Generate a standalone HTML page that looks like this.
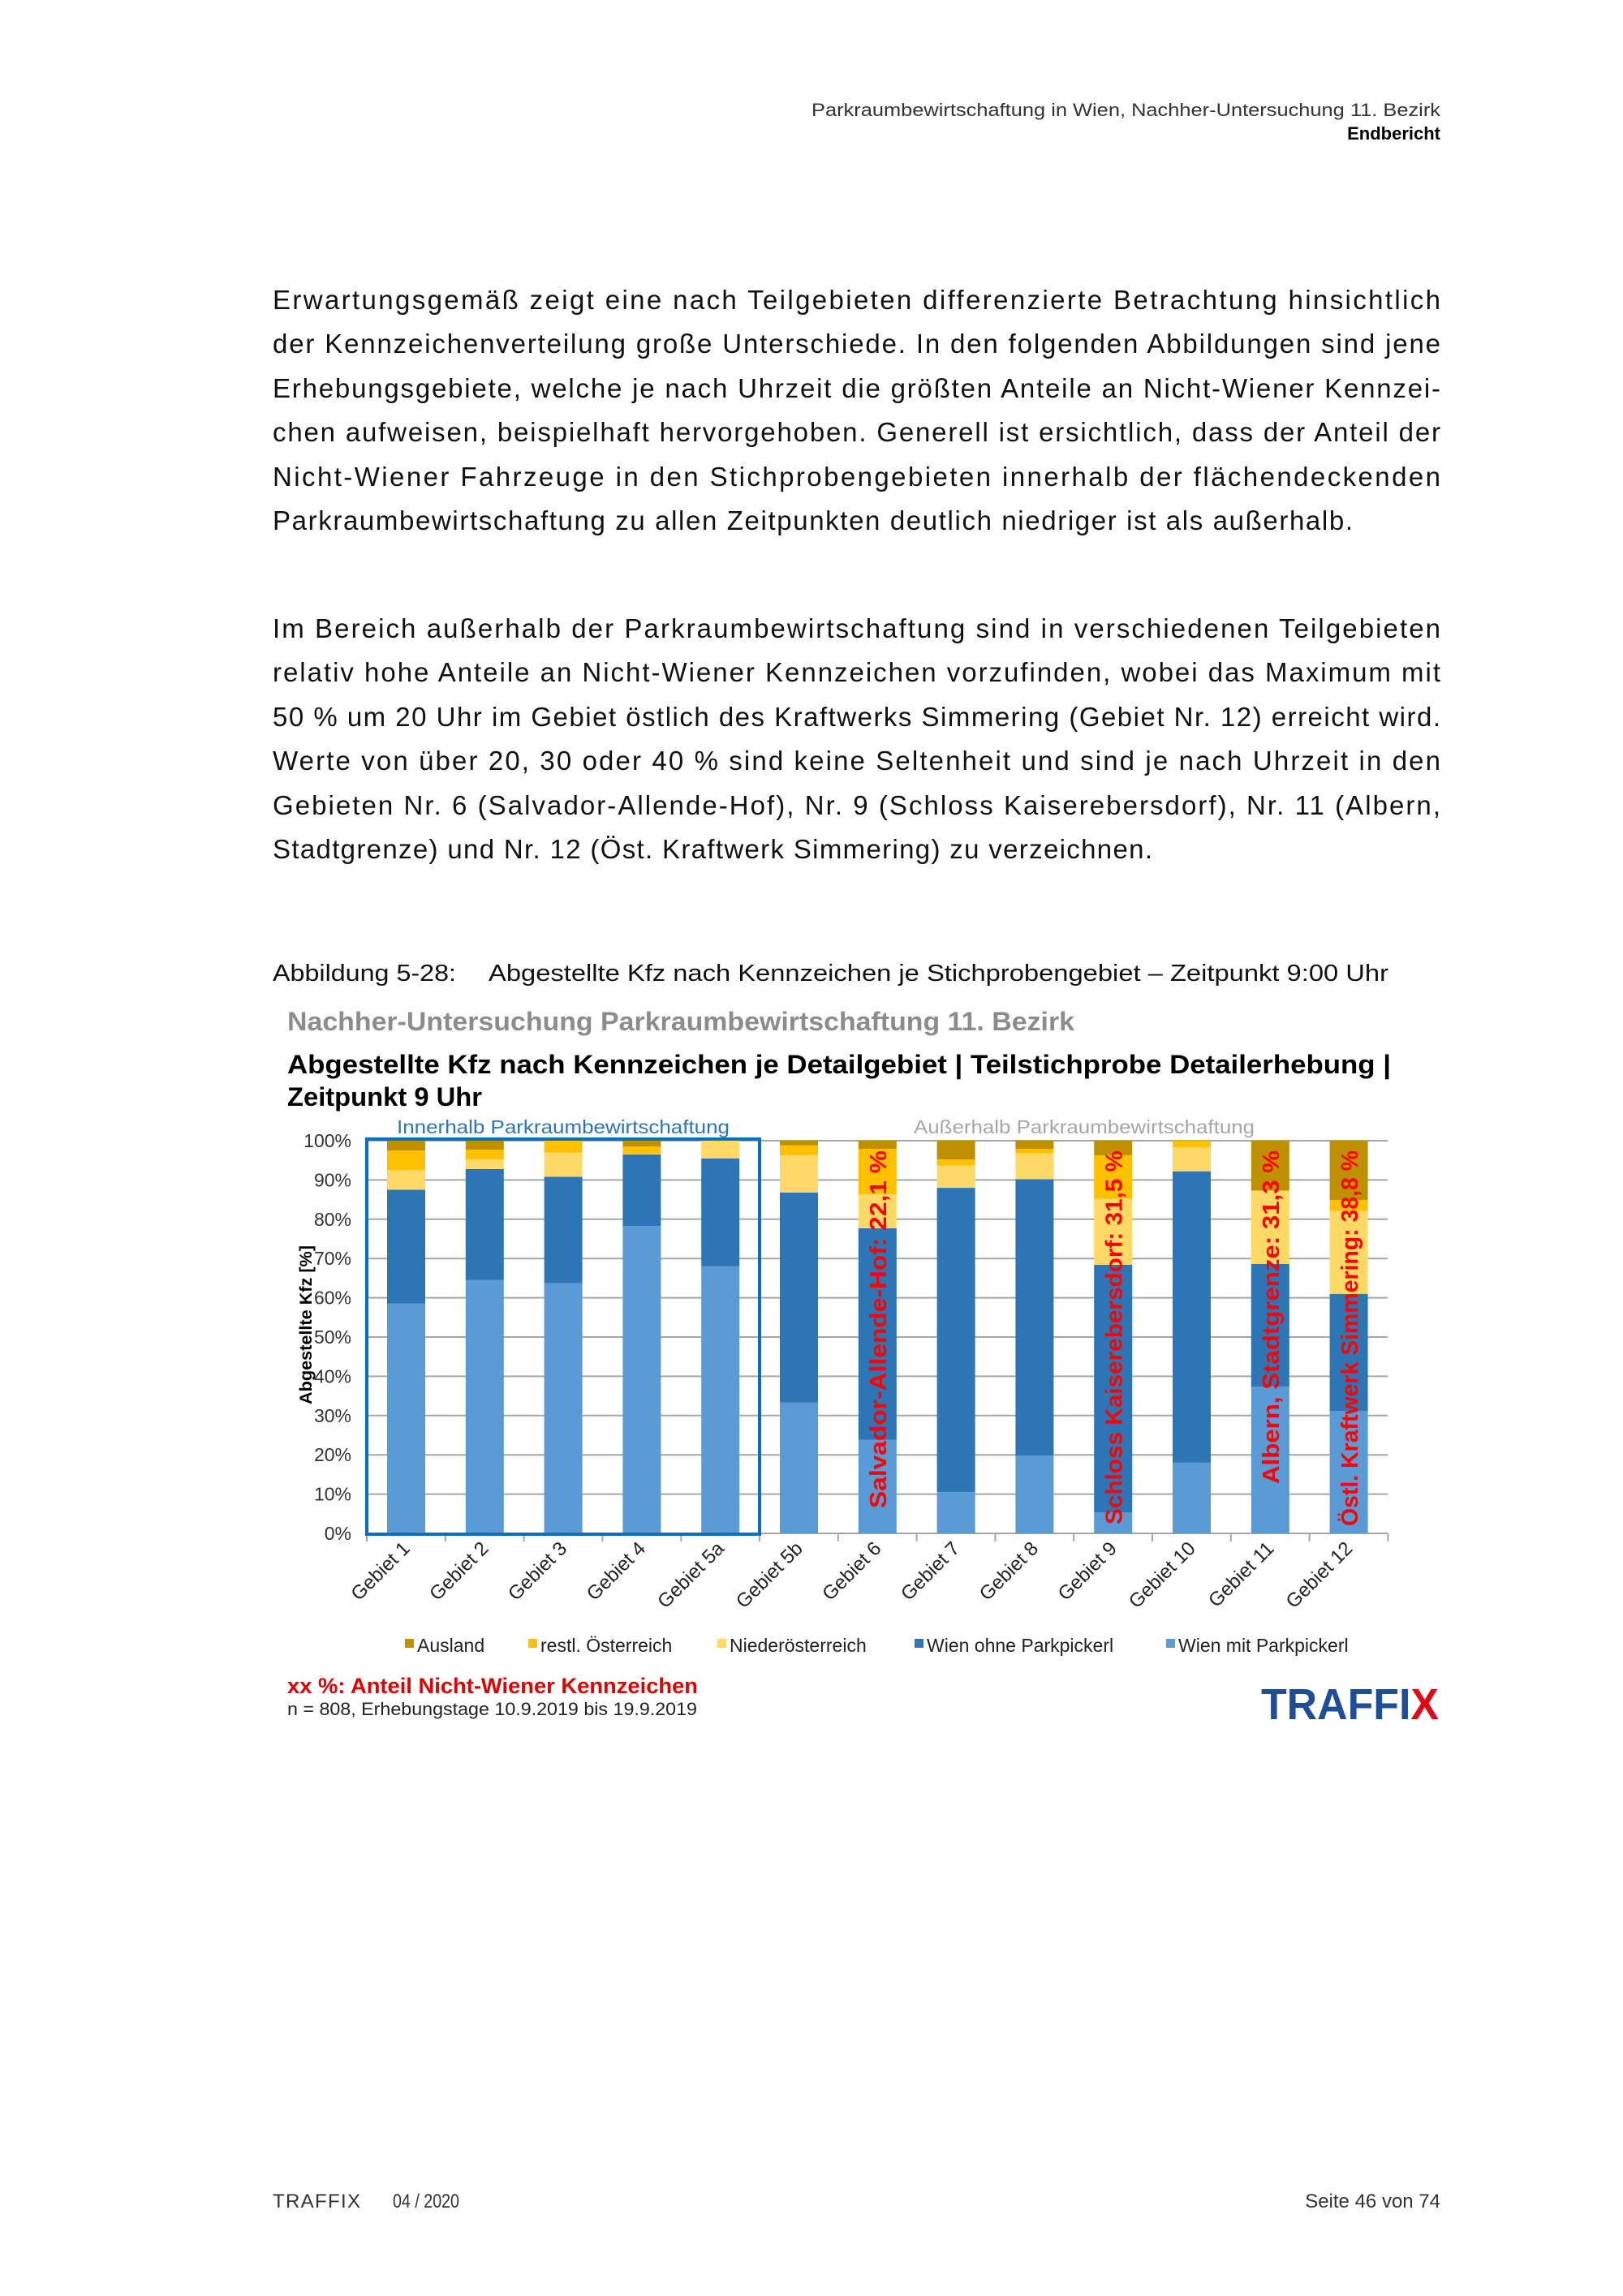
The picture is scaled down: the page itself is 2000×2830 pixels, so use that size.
<!DOCTYPE html>
<html><head><meta charset="utf-8"><style>
html,body{margin:0;padding:0;background:#fff;}
svg{display:block;font-family:"Liberation Sans",sans-serif;}
</style></head><body>
<svg id="s" width="2000" height="2830" viewBox="0 0 2000 2830" xmlns="http://www.w3.org/2000/svg">
<rect width="2000" height="2830" fill="#fff"/>
<text x="1775" y="143" font-size="22" text-anchor="end" fill="#333" textLength="775" lengthAdjust="spacingAndGlyphs">Parkraumbewirtschaftung in Wien, Nachher-Untersuchung 11. Bezirk</text>
<text x="1775" y="172" font-size="22" font-weight="bold" text-anchor="end" fill="#000">Endbericht</text>
<g font-size="33" fill="#111">
<text x="336" y="381" textLength="1439" lengthAdjust="spacing">Erwartungsgemäß zeigt eine nach Teilgebieten differenzierte Betrachtung hinsichtlich</text>
<text x="336" y="435" textLength="1439" lengthAdjust="spacing">der Kennzeichenverteilung große Unterschiede. In den folgenden Abbildungen sind jene</text>
<text x="336" y="490" textLength="1439" lengthAdjust="spacing">Erhebungsgebiete, welche je nach Uhrzeit die größten Anteile an Nicht-Wiener Kennzei-</text>
<text x="336" y="544" textLength="1439" lengthAdjust="spacing">chen aufweisen, beispielhaft hervorgehoben. Generell ist ersichtlich, dass der Anteil der</text>
<text x="336" y="599" textLength="1439" lengthAdjust="spacing">Nicht-Wiener Fahrzeuge in den Stichprobengebieten innerhalb der flächendeckenden</text>
<text x="336" y="653" textLength="1331" lengthAdjust="spacing">Parkraumbewirtschaftung zu allen Zeitpunkten deutlich niedriger ist als außerhalb.</text>
<text x="336" y="786" textLength="1439" lengthAdjust="spacing">Im Bereich außerhalb der Parkraumbewirtschaftung sind in verschiedenen Teilgebieten</text>
<text x="336" y="840" textLength="1439" lengthAdjust="spacing">relativ hohe Anteile an Nicht-Wiener Kennzeichen vorzufinden, wobei das Maximum mit</text>
<text x="336" y="895" textLength="1439" lengthAdjust="spacing">50 % um 20 Uhr im Gebiet östlich des Kraftwerks Simmering (Gebiet Nr. 12) erreicht wird.</text>
<text x="336" y="949" textLength="1439" lengthAdjust="spacing">Werte von über 20, 30 oder 40 % sind keine Seltenheit und sind je nach Uhrzeit in den</text>
<text x="336" y="1004" textLength="1439" lengthAdjust="spacing">Gebieten Nr. 6 (Salvador-Allende-Hof), Nr. 9 (Schloss Kaiserebersdorf), Nr. 11 (Albern,</text>
<text x="336" y="1058" textLength="1084" lengthAdjust="spacing">Stadtgrenze) und Nr. 12 (Öst. Kraftwerk Simmering) zu verzeichnen.</text>
</g>
<text x="336" y="1209" font-size="29" fill="#111" textLength="226" lengthAdjust="spacingAndGlyphs">Abbildung 5-28:</text>
<text x="602" y="1209" font-size="29" fill="#111" textLength="1109" lengthAdjust="spacingAndGlyphs">Abgestellte Kfz nach Kennzeichen je Stichprobengebiet – Zeitpunkt 9:00 Uhr</text>
<text x="354" y="1270" font-size="32" font-weight="bold" fill="#8c8c8c" textLength="970" lengthAdjust="spacingAndGlyphs">Nachher-Untersuchung Parkraumbewirtschaftung 11. Bezirk</text>
<text x="354" y="1323" font-size="32" font-weight="bold" fill="#000" textLength="1360" lengthAdjust="spacingAndGlyphs">Abgestellte Kfz nach Kennzeichen je Detailgebiet  |  Teilstichprobe Detailerhebung  |</text>
<text x="354" y="1363" font-size="32" font-weight="bold" fill="#000" textLength="240" lengthAdjust="spacingAndGlyphs">Zeitpunkt 9 Uhr</text>
<text x="694" y="1397" font-size="23" fill="#2e75b6" text-anchor="middle" textLength="410" lengthAdjust="spacingAndGlyphs">Innerhalb Parkraumbewirtschaftung</text>
<text x="1336" y="1397" font-size="23" fill="#a6a6a6" text-anchor="middle" textLength="420" lengthAdjust="spacingAndGlyphs">Außerhalb Parkraumbewirtschaftung</text>
<g id="grid"></g>
<g id="bars"></g>
<rect x="452" y="1404" width="484" height="487" fill="none" stroke="#0070c0" stroke-width="4"/>
<g id="ann" font-size="29" font-weight="bold" fill="#ff0000"></g>
<text transform="translate(384,1633) rotate(-90)" font-size="21" font-weight="bold" text-anchor="middle" fill="#000" textLength="196" lengthAdjust="spacingAndGlyphs">Abgestellte Kfz [%]</text>
<g font-size="23" fill="#222">
<rect x="499" y="2020" width="11" height="11" fill="#bf9000"/><text x="514" y="2036">Ausland</text>
<rect x="651" y="2020" width="11" height="11" fill="#ffc000"/><text x="666" y="2036">restl. Österreich</text>
<rect x="884" y="2020" width="11" height="11" fill="#ffd966"/><text x="899" y="2036">Niederösterreich</text>
<rect x="1127" y="2020" width="11" height="11" fill="#2e75b6"/><text x="1142" y="2036">Wien ohne Parkpickerl</text>
<rect x="1437" y="2020" width="11" height="11" fill="#5b9bd5"/><text x="1452" y="2036">Wien mit Parkpickerl</text>
</g>
<text x="354" y="2087" font-size="27" font-weight="bold" fill="#e00000" textLength="506" lengthAdjust="spacingAndGlyphs">xx %: Anteil Nicht-Wiener Kennzeichen</text>
<text x="354" y="2114" font-size="22" fill="#222" textLength="505" lengthAdjust="spacingAndGlyphs">n = 808, Erhebungstage 10.9.2019 bis 19.9.2019</text>
<text x="1554" y="2119" font-size="54" font-weight="bold" fill="#1f4e96" textLength="219" lengthAdjust="spacingAndGlyphs">TRAFFI<tspan fill="#e30613">X</tspan></text>
<text x="336" y="2721" font-size="24" fill="#333" textLength="108" lengthAdjust="spacing">TRAFFIX</text>
<text x="484" y="2721" font-size="24" fill="#333" textLength="82" lengthAdjust="spacingAndGlyphs">04 / 2020</text>
<text x="1775" y="2721" font-size="24" fill="#333" text-anchor="end">Seite 46 von 74</text>
</svg>
<script>
var NS="http://www.w3.org/2000/svg";
function el(p,t,a,txt){var e=document.createElementNS(NS,t);for(var k in a)e.setAttribute(k,a[k]);if(txt!=null)e.textContent=txt;p.appendChild(e);return e;}
var X0=452,W=96.8,Y0=1890,H=484,R=1710;
function y(v){return Y0-v*H/100;}
var g=document.getElementById('grid');
for(var i=0;i<=10;i++){var yy=y(i*10);
el(g,'line',{x1:X0,x2:R,y1:yy,y2:yy,stroke:'#a6a6a6','stroke-width':2});
el(g,'text',{x:433,y:yy+8,'font-size':23,'text-anchor':'end',fill:'#333'},(i*10)+'%');}
el(g,'line',{x1:X0,x2:X0,y1:y(100),y2:Y0,stroke:'#a6a6a6','stroke-width':2});
for(var i=0;i<=13;i++){var xx=X0+i*W;el(g,'line',{x1:xx,x2:xx,y1:Y0,y2:Y0+10,stroke:'#a6a6a6','stroke-width':2});}
var names=['Gebiet 1','Gebiet 2','Gebiet 3','Gebiet 4','Gebiet 5a','Gebiet 5b','Gebiet 6','Gebiet 7','Gebiet 8','Gebiet 9','Gebiet 10','Gebiet 11','Gebiet 12'];
var D=[[58.5,87.5,92.5,97.5],[64.5,92.8,95.3,97.7],[63.7,90.8,97,100],[78.3,96.5,96.7,98.5],[68,95.5,100,100],[33.3,86.8,96.3,98.8],[23.8,77.7,86.3,97.9],[10.5,88,93.7,95.2],[19.8,90.2,96.8,97.9],[5.3,68.4,85.2,96.3],[18,92.2,98.3,100],[37.4,68.6,87.3,87.3],[31.2,61,82.1,84.9]];
var C=['#5b9bd5','#2e75b6','#ffd966','#ffc000','#bf9000'];
var b=document.getElementById('bars');
D.forEach(function(d,i){var x=X0+i*W+25;var prev=0;var vals=d.concat([100]);
vals.forEach(function(v,j){if(v>prev){el(b,'rect',{x:x,y:y(v),width:47,height:y(prev)-y(v),fill:C[j]});}prev=Math.max(prev,v);});
var cx=X0+i*W+W/2;
el(g,'text',{transform:'translate('+(cx+6)+','+(Y0+20)+') rotate(-45)','font-size':24,'text-anchor':'end',fill:'#222'},names[i]);
});
var a=document.getElementById('ann');
[[6,'Salvador-Allende-Hof: 22,1 %',441],[9,'Schloss Kaiserebersdorf: 31,5 %',461],[11,'Albern, Stadtgrenze: 31,3 %',411],[12,'Östl. Kraftwerk Simmering: 38,8 %',463]].forEach(function(t){
var cx=X0+t[0]*W+W/2+11;
el(a,'text',{transform:'translate('+cx+',1418) rotate(-90)','text-anchor':'end',textLength:t[2],lengthAdjust:'spacingAndGlyphs'},t[1]);});
</script>
</body></html>
